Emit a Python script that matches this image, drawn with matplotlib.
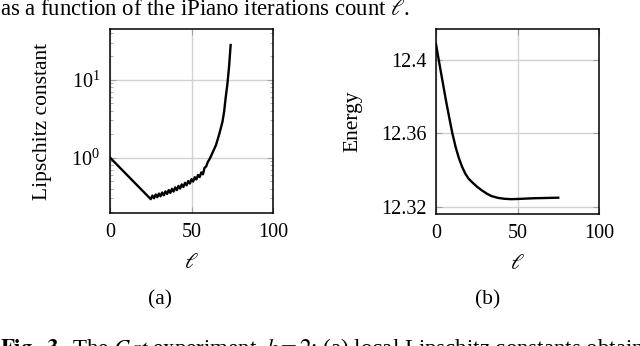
import numpy as np
import matplotlib
matplotlib.use('Agg')
import matplotlib.pyplot as plt
from matplotlib.ticker import LogLocator, NullFormatter, FixedLocator

plt.rcParams['font.family'] = ['Liberation Serif', 'DejaVu Serif']
plt.rcParams['mathtext.fontset'] = 'stix'
plt.rcParams['font.size'] = 14.5

# (a) local Lipschitz constant per iPiano iteration
lip_iter = [0, 25, 26, 27, 28, 29, 30, 31, 32, 33, 34, 35, 36, 37, 38, 39, 40,
            41, 42, 43, 44, 45, 46, 47, 48, 49, 50, 51, 52, 53, 54, 55, 56, 57,
            58, 59, 60, 61, 62, 63, 64, 65, 66, 67, 68, 69, 70, 71, 72, 73, 74]
lip_vals = [1.0, 0.292, 0.325, 0.300, 0.335, 0.310, 0.345, 0.318, 0.356, 0.328,
            0.368, 0.340, 0.382, 0.352, 0.397, 0.366, 0.414, 0.382, 0.432, 0.400,
            0.452, 0.419, 0.474, 0.440, 0.500, 0.464, 0.528, 0.492, 0.560, 0.524,
            0.598, 0.562, 0.645, 0.610, 0.740, 0.770, 0.880, 0.950, 1.05, 1.17,
            1.30, 1.45, 1.70, 2.0, 2.4, 2.9, 3.9, 6.0, 8.8, 14.5, 28.0]

# (b) energy per iPiano iteration
en_iter = [0, 2, 4, 6, 8, 10, 12, 14, 16, 18, 20, 22, 25, 28, 31, 34, 38, 42,
           46, 50, 55, 60, 65, 70, 75]
en_vals = [12.4087, 12.3985, 12.3885, 12.3785, 12.3692, 12.3602, 12.3527,
           12.3466, 12.3418, 12.3380, 12.3353, 12.3335, 12.3310, 12.3290,
           12.3272, 12.3258, 12.3248, 12.3243, 12.3241, 12.3242, 12.3244,
           12.3246, 12.3247, 12.3248, 12.3249]

x_ticks = [0, 50, 100]
energy_ticks = [12.32, 12.36, 12.4]
energy_labels = ['12.32', '12.36', '12.4']

fig = plt.figure(figsize=(6.4, 3.46), dpi=100)
ax1 = fig.add_axes([0.1719, 0.3844, 0.2547, 0.5318])
ax2 = fig.add_axes([0.68125, 0.3815, 0.2547, 0.5347])

grid_col = '#d2d2d2'
tick_col = '#a0a0a0'

for ax in (ax1, ax2):
    ax.set_xlim(0, 100)
    ax.xaxis.set_major_locator(FixedLocator(x_ticks))
    ax.grid(True, which='major', color=grid_col, linewidth=1.0)
    ax.set_axisbelow(True)
    ax.tick_params(which='both', direction='in', top=True, right=True,
                   color=tick_col, labelsize=14.5)
    ax.tick_params(which='major', length=4, width=0.8, pad=7)
    ax.tick_params(which='minor', length=2.5, width=0.6)
    for s in ax.spines.values():
        s.set_linewidth(1.1)
    ax.set_xlabel(r'$\ell$', fontsize=16, labelpad=9)

ax1.plot(lip_iter, lip_vals, color='black', linewidth=1.7)
ax1.set_yscale('log')
ax1.set_ylim(0.194, 45)
ax1.yaxis.set_major_locator(LogLocator(base=10, numticks=10))
ax1.yaxis.set_minor_locator(LogLocator(base=10, subs=np.arange(2, 10), numticks=20))
ax1.yaxis.set_minor_formatter(NullFormatter())
ax1.set_ylabel('Lipschitz constant', fontsize=15.5, labelpad=14)

ax2.plot(en_iter, en_vals, color='black', linewidth=1.7)
ax2.set_ylim(12.316, 12.417)
ax2.set_yticks(energy_ticks)
ax2.set_yticklabels(energy_labels)
ax2.set_ylabel('Energy', fontsize=15.5, labelpad=13)

fig.text(0.0, 0.972, r'as a function of the iPiano iterations count $\ell$.',
         ha='left', va='center', fontsize=16.4)
fig.text(160 / 640, 1 - 300 / 346, '(a)', ha='center', va='center', fontsize=15.5)
fig.text(488 / 640, 1 - 300 / 346, '(b)', ha='center', va='center', fontsize=15.5)
fig.text(0.0, 1 - 336 / 346,
         r'$\mathbf{Fig.\ 3.}$ The $\mathit{Cat}$ experiment, $k=2$: (a) local Lipschitz constants obtained',
         ha='left', va='top', fontsize=16.5)

fig.savefig('out.png', dpi=100)
